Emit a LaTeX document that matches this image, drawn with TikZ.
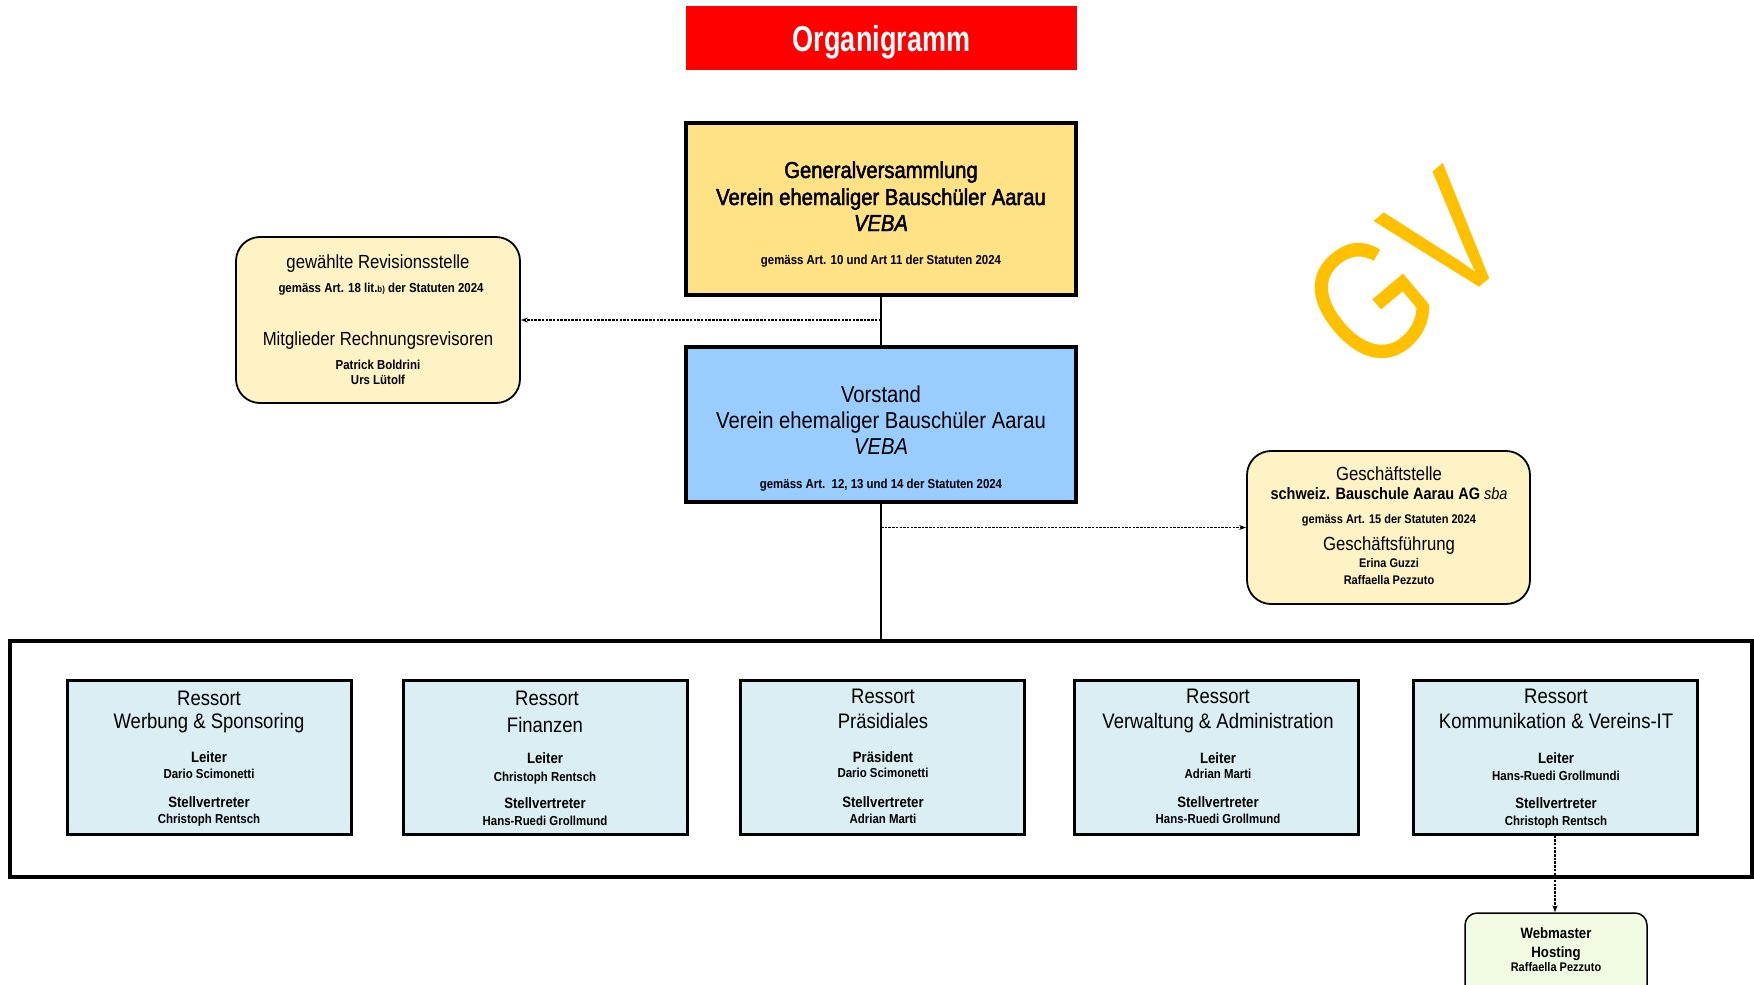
\documentclass[tikz,border=0pt]{standalone}
\usepackage{fontspec}
\setmainfont{Liberation Sans}[FakeStretch=0.88]
\newfontfamily\titlefont{Liberation Sans}[FakeStretch=0.75]
\newfontfamily\wmfont{Liberation Sans}[FakeStretch=0.8]
\newfontfamily\heavyfont{Liberation Sans}[FakeStretch=0.88,FakeBold=2]
\usetikzlibrary{arrows.meta,calc}
\definecolor{gvyellow}{HTML}{FFE285}
\definecolor{vsblue}{HTML}{99CCFF}
\definecolor{cream}{HTML}{FFF2C4}
\definecolor{resblue}{HTML}{DAEEF3}
\definecolor{wmgreen}{HTML}{F0FBE1}
\definecolor{gold}{HTML}{FFC000}
\definecolor{titlered}{HTML}{FF0000}
\begin{document}
\begin{tikzpicture}[x=1pt,y=-1pt,
  mainbox/.style={draw=black, line width=3.5pt, inner sep=0pt},
  resbox/.style={draw=black, line width=3pt, fill=resblue, minimum width=284pt, minimum height=154pt, inner sep=0pt},
  roundbox/.style={draw=black, line width=1.8pt, fill=cream, rounded corners=24pt, inner sep=0pt},
  tl/.style={anchor=base, inner sep=0pt},
  big/.style={font=\fontsize{21}{24}\selectfont},
  role/.style={font=\bfseries\fontsize{15}{17}\selectfont},
  who/.style={font=\bfseries\fontsize{13}{15}\selectfont},
  small/.style={font=\bfseries\fontsize{13}{15}\selectfont},
  solidline/.style={line width=2pt},
  dashline/.style={line width=1.6pt, dash pattern=on 2.5pt off 1.2pt},
  arr/.style={-{Stealth[length=7pt,width=5pt]}}
]
\useasboundingbox (0,0) rectangle (1754,985);
\fill[white] (0,0) rectangle (1754,985);

% title
\node[fill=titlered, minimum width=391pt, minimum height=64pt, inner sep=0pt] (title) at (881.5,38) {};
\node[tl, text=white, font=\titlefont\bfseries\fontsize{36}{40}\selectfont] (titletext) at (881.5,51) {Organigramm};

% watermark
\node[rotate=40, text=gold, inner sep=0pt, font=\wmfont\fontsize{172}{172}\selectfont] (gvmark) at (1406,272) {GV};

% Generalversammlung
\node[mainbox, fill=gvyellow, minimum width=390pt, minimum height=172pt] (gv) at (881,209) {};
\node[tl, font=\heavyfont\fontsize{23}{27}\selectfont] (gva) at (881,178) {Generalversammlung};
\node[tl, font=\heavyfont\fontsize{23}{27}\selectfont] (gvb) at (881,205) {Verein ehemaliger Bauschüler Aarau};
\node[tl, font=\heavyfont\itshape\fontsize{23}{27}\selectfont] (gvc) at (881,231) {VEBA};
\node[tl, small] (gvd) at (881,264) {gemäss Art. 10 und Art 11 der Statuten 2024};

% Vorstand
\node[mainbox, fill=vsblue, minimum width=390pt, minimum height=155pt] (vs) at (881,424.5) {};
\node[tl, font=\fontsize{23}{27}\selectfont] (vsa) at (881,402) {Vorstand};
\node[tl, font=\fontsize{23}{27}\selectfont] (vsb) at (881,428) {Verein ehemaliger Bauschüler Aarau};
\node[tl, font=\itshape\fontsize{23}{27}\selectfont] (vsc) at (881,454) {VEBA};
\node[tl, small] (vsd) at (881,488) {gemäss Art.\ \ 12, 13 und 14 der Statuten 2024};

% Revisionsstelle
\node[roundbox, minimum width=284pt, minimum height=166pt] (rev) at (378,320) {};
\node[tl, font=\fontsize{19}{22}\selectfont] (reva) at (378,268) {gewählte Revisionsstelle};
\node[tl, small] (revb) at (381,292) {gemäss Art. 18 lit.{\fontsize{9}{9}\selectfont b)} der Statuten 2024};
\node[tl, font=\fontsize{19}{22}\selectfont] (revc) at (378,345) {Mitglieder Rechnungsrevisoren};
\node[tl, who] (revd) at (378,369) {Patrick Boldrini};
\node[tl, who] (reve) at (378,384) {Urs Lütolf};

% Geschaeftsstelle
\node[roundbox, minimum width=283pt, minimum height=153pt] (gs) at (1388.5,527.5) {};
\node[tl, font=\fontsize{19}{22}\selectfont] (gsa) at (1389,480) {Geschäftstelle};
\node[tl, font=\fontsize{16.5}{19}\selectfont] (gsb) at (1389,499) {\bfseries schweiz. Bauschule Aarau AG \mdseries\itshape sba};
\node[tl, font=\bfseries\fontsize{12.5}{15}\selectfont] (gsc) at (1389,523) {gemäss Art. 15 der Statuten 2024};
\node[tl, font=\fontsize{19}{22}\selectfont] (gsd) at (1389,550) {Geschäftsführung};
\node[tl, font=\bfseries\fontsize{12.5}{15}\selectfont] (gse) at (1389,567) {Erina Guzzi};
\node[tl, font=\bfseries\fontsize{12.5}{15}\selectfont] (gsf) at (1389,584) {Raffaella Pezzuto};

% outer frame
\node[draw=black, line width=3.5pt, minimum width=1742pt, minimum height=236pt, inner sep=0pt] (outer) at (881,759) {};

% Ressorts
\node[resbox] (r1) at (209,757) {};
\node[tl, big] (r1a) at (209,705) {Ressort};
\node[tl, big] (r1b) at (209,728) {Werbung \& Sponsoring};
\node[tl, role] (r1c) at (209,762) {Leiter};
\node[tl, who] (r1d) at (209,778) {Dario Scimonetti};
\node[tl, role] (r1e) at (209,807) {Stellvertreter};
\node[tl, who] (r1f) at (209,823) {Christoph Rentsch};

\node[resbox] (r2) at (545,757) {};
\node[tl, big] (r2a) at (547,705) {Ressort};
\node[tl, big] (r2b) at (545,732) {Finanzen};
\node[tl, role] (r2c) at (545,763) {Leiter};
\node[tl, who] (r2d) at (545,781) {Christoph Rentsch};
\node[tl, role] (r2e) at (545,808) {Stellvertreter};
\node[tl, who] (r2f) at (545,825) {Hans-Ruedi Grollmund};

\node[resbox] (r3) at (882.5,757) {};
\node[tl, big] (r3a) at (883,703) {Ressort};
\node[tl, big] (r3b) at (883,728) {Präsidiales};
\node[tl, role] (r3c) at (883,762) {Präsident};
\node[tl, who] (r3d) at (883,777) {Dario Scimonetti};
\node[tl, role] (r3e) at (883,807) {Stellvertreter};
\node[tl, who] (r3f) at (883,823) {Adrian Marti};

\node[resbox] (r4) at (1216.5,757) {};
\node[tl, big] (r4a) at (1218,703) {Ressort};
\node[tl, big] (r4b) at (1218,728) {Verwaltung \& Administration};
\node[tl, role] (r4c) at (1218,763) {Leiter};
\node[tl, who] (r4d) at (1218,778) {Adrian Marti};
\node[tl, role] (r4e) at (1218,807) {Stellvertreter};
\node[tl, who] (r4f) at (1218,823) {Hans-Ruedi Grollmund};

\node[resbox] (r5) at (1555,757) {};
\node[tl, big] (r5a) at (1556,703) {Ressort};
\node[tl, big] (r5b) at (1556,728) {Kommunikation \& Vereins-IT};
\node[tl, role] (r5c) at (1556,763) {Leiter};
\node[tl, who] (r5d) at (1556,780) {Hans-Ruedi Grollmundi};
\node[tl, role] (r5e) at (1556,808) {Stellvertreter};
\node[tl, who] (r5f) at (1556,825) {Christoph Rentsch};

% Webmaster
\node[draw=black, line width=1.5pt, fill=wmgreen, rounded corners=12pt, minimum width=182pt, minimum height=90pt, inner sep=0pt] (web) at (1556,958) {};
\node[tl, role] (weba) at (1556,938) {Webmaster};
\node[tl, role] (webb) at (1556,957) {Hosting};
\node[tl, font=\bfseries\fontsize{12.5}{15}\selectfont] (webc) at (1556,971) {Raffaella Pezzuto};

% connectors
\draw[solidline] (gv.south) -- (vs.north);
\draw[solidline] (vs.south) -- (vs.south |- outer.north);
\draw[dashline, arr] (gv.south |- rev.east) -- (rev.east);
\draw[dashline, arr] (vs.south |- gs.west) -- (gs.west);
\draw[dashline, arr] (r5.south) -- (r5.south |- web.north);
\end{tikzpicture}
\end{document}
